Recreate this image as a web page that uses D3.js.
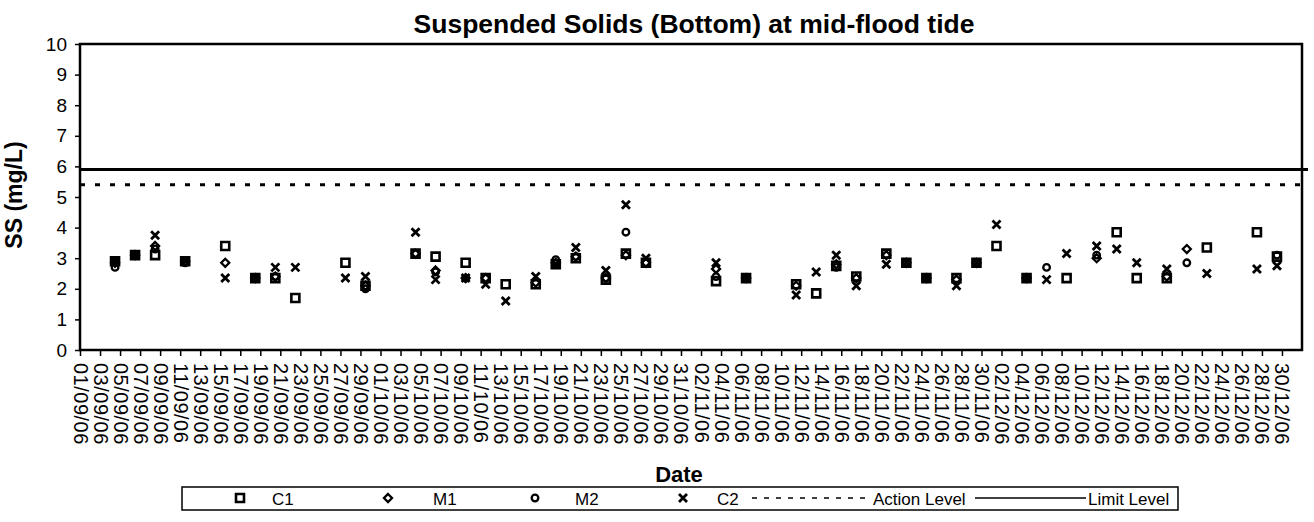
<!DOCTYPE html>
<html>
<head>
<meta charset="utf-8">
<script src="https://cdn.jsdelivr.net/npm/d3@7"></script>
<style>
    body { margin: 0; background: #fff; }
    text { font-family: "Liberation Sans", Arial, sans-serif; fill: #000; }
</style>
</head>
<body>
<div id="chart"></div>
<script>
// sampling days
var sampleDates = ["05/09/06", "07/09/06", "09/09/06", "12/09/06", "16/09/06", "19/09/06", "21/09/06", "23/09/06", "28/09/06", "30/09/06",
    "05/10/06", "07/10/06", "10/10/06", "12/10/06", "14/10/06", "17/10/06", "19/10/06", "21/10/06", "24/10/06", "26/10/06",
    "28/10/06", "04/11/06", "07/11/06", "12/11/06", "14/11/06", "16/11/06", "18/11/06", "21/11/06", "23/11/06", "25/11/06",
    "28/11/06", "30/11/06", "02/12/06", "05/12/06", "07/12/06", "09/12/06", "12/12/06", "14/12/06", "16/12/06", "19/12/06",
    "21/12/06", "23/12/06", "28/12/06", "30/12/06"];

// SS (mg/L) per station, null = no marker
var c1Values = [2.9, 3.1, 3.1, 2.9, 3.4, 2.35, 2.35, 1.7, 2.85, 2.1,
    3.15, 3.05, 2.85, 2.35, 2.15, 2.15, 2.8, 3.0, 2.3, 3.15,
    2.85, 2.25, 2.35, 2.15, 1.85, 2.75, 2.4, 3.15, 2.85, 2.35,
    2.35, 2.85, 3.4, 2.35, null, 2.35, null, 3.85, 2.35, 2.35,
    null, 3.35, 3.85, 3.05];
var m1Values = [2.85, 3.1, 3.4, 2.9, 2.85, 2.35, 2.4, null, null, 2.1,
    3.15, 2.6, 2.35, 2.35, null, 2.2, 2.85, 3.05, 2.35, 3.1,
    2.85, 2.65, 2.35, 2.1, null, 2.8, 2.35, 3.1, 2.85, 2.35,
    2.3, 2.85, null, 2.35, null, null, 3.0, null, null, 2.4,
    3.3, null, null, null];
var m2Values = [2.7, 3.1, 3.3, 2.85, null, 2.35, 2.4, null, null, 2.0,
    3.15, 2.55, 2.35, null, null, null, 2.95, 3.05, 2.35, 3.85,
    2.85, 2.4, 2.35, null, null, 2.7, null, null, 2.85, 2.35,
    null, 2.85, null, 2.35, 2.7, null, 3.1, null, null, null,
    2.85, null, null, 3.1];
var c2Values = [2.9, 3.1, 3.75, 2.9, 2.35, 2.35, 2.7, 2.7, 2.35, 2.4,
    3.85, 2.3, 2.35, 2.15, 1.6, 2.4, 2.8, 3.35, 2.6, 4.75,
    3.0, 2.85, 2.35, 1.8, 2.55, 3.1, 2.1, 2.8, 2.85, 2.35,
    2.1, 2.85, 4.1, 2.35, 2.3, 3.15, 3.4, 3.3, 2.85, 2.65,
    null, 2.5, 2.65, 2.75];

var actionLevel = 5.4,
    limitLevel = 5.9;

var seriesNames = ["C1", "M1", "M2", "C2"];
var yTicks = [0, 1, 2, 3, 4, 5, 6, 7, 8, 9, 10];
var xTickRange = ["01/09/06", "30/12/06"]; // labelled every 2 days
var axisEnd = "01/01/07";

var width = 1314, height = 522,
    plot = {left: 80, right: 1302, top: 44, bottom: 350};

var parseDate = d3.utcParse("%d/%m/%y"),
    formatDate = d3.utcFormat("%d/%m/%y");

var svg = d3.select("#chart")
    .append("svg")
    .attr("width", width)
    .attr("height", height);

// category ticks sit half a day after the date
var x = d3.scaleUtc()
    .domain([d3.utcHour.offset(parseDate(xTickRange[0]), 12), d3.utcHour.offset(parseDate(axisEnd), 12)])
    .range([plot.left, plot.right]);

var y = d3.scaleLinear()
    .domain([0, 10])
    .range([plot.bottom, plot.top]);

var tickDates = d3.utcDay.range(parseDate(xTickRange[0]), d3.utcDay.offset(parseDate(xTickRange[1]), 1), 2);

// x axis
var xAxis = svg.append("g")
    .attr("class", "x axis")
    .attr("transform", "translate(0," + plot.bottom + ")")
    .call(d3.axisBottom(x)
        .tickValues(tickDates.map(function (d) { return d3.utcHour.offset(d, 12); }))
        .tickFormat(formatDate)
        .tickSize(6));
xAxis.select(".domain").remove();
xAxis.selectAll("line").attr("stroke", "#000").attr("stroke-width", 1.5);
xAxis.selectAll("text")
    .attr("transform", "rotate(90)")
    .attr("x", 13)
    .attr("y", 0)
    .attr("dy", "0.35em")
    .style("text-anchor", "start")
    .style("font-size", "20px")
    .style("letter-spacing", "0.5px")
    .style("font-family", "'Liberation Sans', Arial, sans-serif");

// y axis
var yAxis = svg.append("g")
    .attr("class", "y axis")
    .attr("transform", "translate(" + plot.left + ",0)")
    .call(d3.axisLeft(y).tickValues(yTicks).tickSize(5).tickPadding(8));
yAxis.select(".domain").remove();
yAxis.selectAll("line").attr("stroke", "#000").attr("stroke-width", 1.5);
yAxis.selectAll("text")
    .style("font-size", "19px")
    .style("font-family", "'Liberation Sans', Arial, sans-serif");

// plot frame
svg.append("rect")
    .attr("x", plot.left)
    .attr("y", plot.top)
    .attr("width", plot.right - plot.left)
    .attr("height", plot.bottom - plot.top)
    .attr("fill", "none")
    .attr("stroke", "#000")
    .attr("stroke-width", 2.5);

// action / limit levels
svg.append("line")
    .attr("x1", x.range()[0]).attr("x2", x.range()[1])
    .attr("y1", y(actionLevel)).attr("y2", y(actionLevel))
    .attr("stroke", "#000")
    .attr("stroke-width", 3)
    .attr("stroke-dasharray", "5,10");
svg.append("line")
    .attr("x1", x.range()[0]).attr("x2", x.range()[1] + 6)
    .attr("y1", y(limitLevel)).attr("y2", y(limitLevel))
    .attr("stroke", "#000")
    .attr("stroke-width", 3);

var markerPath = function (name) {
    switch (name) {
        case "C1":
            return "M-4,-4H4V4H-4Z";
        case "M1":
            return "M0,-4L4,0L0,4L-4,0Z";
        case "M2":
            return "M3.3,0A3.3,3.3 0 1,1 -3.3,0A3.3,3.3 0 1,1 3.3,0Z";
        default:
            return "M-4,-4L4,4M4,-4L-4,4";
    }
};
var markerWidth = {C1: 2.6, M1: 2.3, M2: 2.3, C2: 2.8};

var seriesValues = [c1Values, m1Values, m2Values, c2Values];

seriesNames.forEach(function (name, s) {
    var points = sampleDates.map(function (d, i) {
        return {date: parseDate(d), value: seriesValues[s][i]};
    }).filter(function (d) { return d.value !== null; });

    svg.append("g")
        .attr("class", "series " + name)
        .selectAll("path")
        .data(points)
        .enter()
        .append("path")
        .attr("transform", function (d) {
            return "translate(" + x(d.date) + "," + y(d.value) + ")";
        })
        .attr("d", markerPath(name))
        .attr("fill", "none")
        .attr("stroke", "#000")
        .attr("stroke-width", markerWidth[name]);
});

// title and axis titles
svg.append("text")
    .attr("x", 694)
    .attr("y", 33)
    .style("text-anchor", "middle")
    .style("font-size", "26.5px")
    .style("font-weight", "bold")
    .text("Suspended Solids (Bottom) at mid-flood tide");

svg.append("text")
    .attr("transform", "translate(22,195) rotate(-90)")
    .style("text-anchor", "middle")
    .style("font-size", "23px")
    .style("font-weight", "bold")
    .text("SS (mg/L)");

svg.append("text")
    .attr("x", 679)
    .attr("y", 482)
    .style("text-anchor", "middle")
    .style("font-size", "22px")
    .style("font-weight", "bold")
    .text("Date");

// legend
var legend = svg.append("g").attr("class", "legend");
legend.append("rect")
    .attr("x", 182).attr("y", 487)
    .attr("width", 996).attr("height", 23)
    .attr("fill", "none")
    .attr("stroke", "#000")
    .attr("stroke-width", 1.5);

var legendMarkers = [240, 388, 535, 683],
    legendLabels = [272, 433, 575, 717];

seriesNames.forEach(function (name, i) {
    legend.append("path")
        .attr("transform", "translate(" + legendMarkers[i] + ",498)")
        .attr("d", markerPath(name))
        .attr("fill", "none")
        .attr("stroke", "#000")
        .attr("stroke-width", markerWidth[name]);
    legend.append("text")
        .attr("x", legendLabels[i])
        .attr("y", 505)
        .style("font-size", "17px")
        .text(name);
});

legend.append("line")
    .attr("x1", 752).attr("x2", 871)
    .attr("y1", 498).attr("y2", 498)
    .attr("stroke", "#000")
    .attr("stroke-width", 1.5)
    .attr("stroke-dasharray", "5,7");
legend.append("text")
    .attr("x", 873).attr("y", 505)
    .style("font-size", "17px")
    .text("Action Level");

legend.append("line")
    .attr("x1", 975).attr("x2", 1086)
    .attr("y1", 498).attr("y2", 498)
    .attr("stroke", "#000")
    .attr("stroke-width", 1.5);
legend.append("text")
    .attr("x", 1088).attr("y", 505)
    .style("font-size", "17px")
    .text("Limit Level");
</script>
</body>
</html>
